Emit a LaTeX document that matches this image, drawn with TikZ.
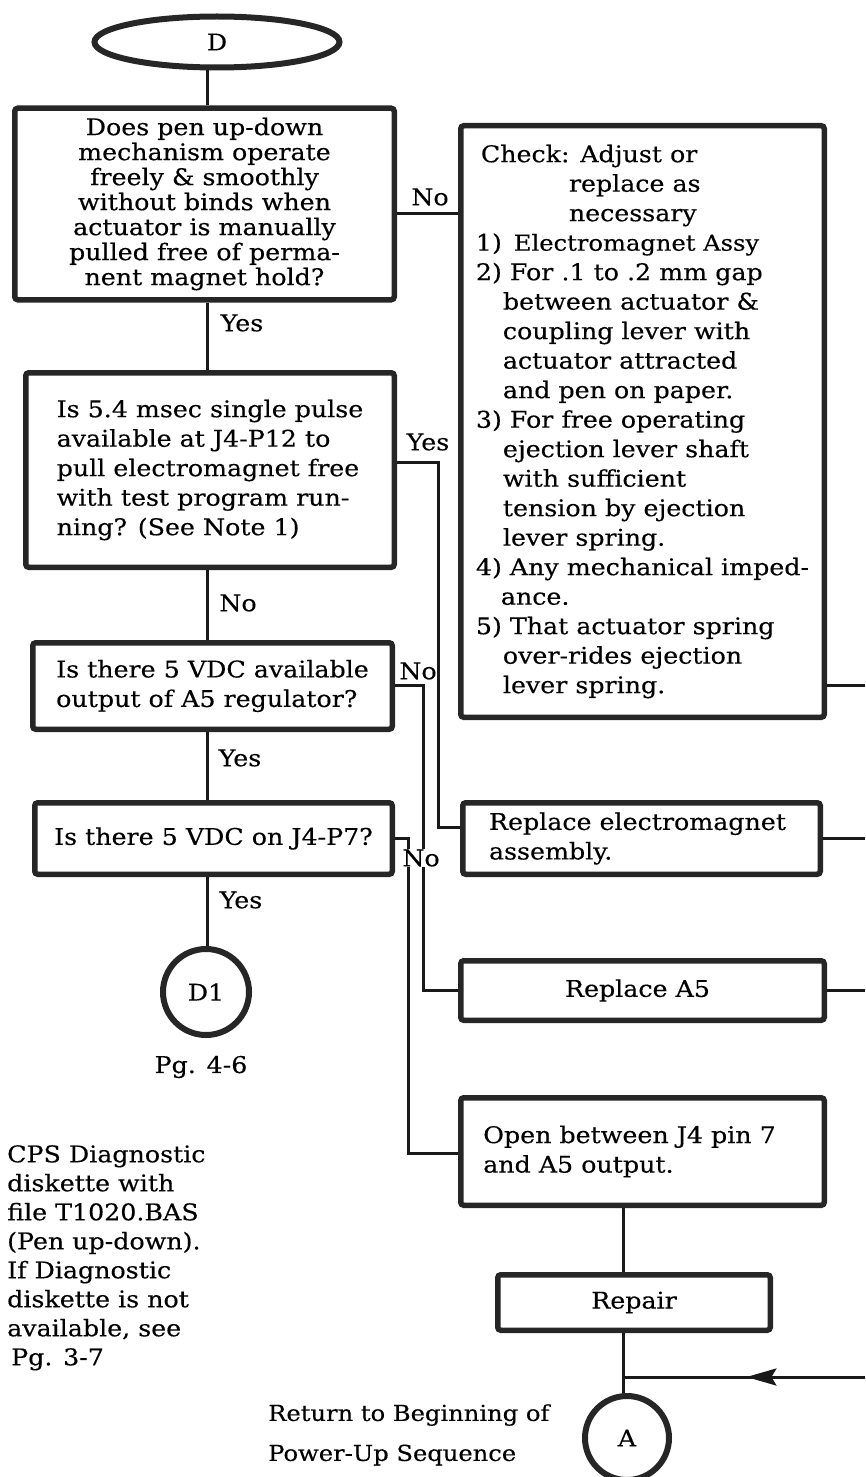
\documentclass[tikz,border=0pt]{standalone}
\usepackage{fontspec}
\setmainfont{DejaVu Serif}[FakeStretch=1.1, FakeBold=0.3]
\usetikzlibrary{shapes.geometric, arrows.meta, decorations.markings}
\begin{document}
\begin{tikzpicture}[x=1pt, y=-1pt,
  box/.style={draw=black!85, line width=5.5pt, rounded corners=3pt, fill=white, inner sep=0pt,
              font=\fontsize{23}{29.5}\selectfont},
  conn/.style={draw=black!90, line width=3pt},
  lbl/.style={font=\fontsize{23}{26}\selectfont, inner sep=1pt},
  term/.style={draw=black!85, line width=6pt, circle, fill=white, inner sep=0pt,
               font=\fontsize{23}{26}\selectfont}
]
\useasboundingbox (0,0) rectangle (865,1477);

% ---------- nodes ----------
\node[draw=black!85, line width=6pt, ellipse, fill=white, minimum width=245pt, minimum height=51pt,
      inner sep=0pt, font=\fontsize{23}{26}\selectfont] (d) at (217,42) {D};

\node[box, minimum width=379.5pt, minimum height=191.5pt, align=center,
      font=\fontsize{23}{25}\selectfont] (q1) at (204.5,204)
 {Does pen up-down\\ mechanism operate\\ freely \& smoothly\\ without binds when\\
  actuator is manually\\ pulled free of perma-\\ nent magnet hold?};

\node[box, minimum width=368.5pt, minimum height=194.5pt, align=left] (q2) at (210,470)
 {Is 5.4 msec single pulse\\ available at J4-P12 to\\ pull electromagnet free\\
  with test program run-\\ ning? (See Note 1)};

\node[box, minimum width=359.5pt, minimum height=86.5pt, align=left] (q3) at (212.5,686)
 {Is there 5 VDC available\\ output of A5 regulator?};

\node[box, minimum width=357.5pt, minimum height=71.5pt, align=left] (q4) at (213.5,838.5)
 {Is there 5 VDC on J4-P7?};

\node[box, minimum width=363.5pt, minimum height=591.5pt, align=left] (check) at (642.5,421.5)
 {\hspace*{5pt}Check: Adjust or\\
  \hspace*{93pt}replace as\\
  \hspace*{93pt}necessary\\
  1)\hspace*{12pt}{\fontsize{22}{29.5}\selectfont Electromagnet Assy}\\
  2) For .1 to .2 mm gap\\
  \hspace*{27pt}between actuator \&\\
  \hspace*{27pt}coupling lever with\\
  \hspace*{27pt}actuator attracted\\
  \hspace*{27pt}and pen on paper.\\
  3) For free operating\\
  \hspace*{27pt}ejection lever shaft\\
  \hspace*{27pt}with sufficient\\
  \hspace*{27pt}tension by ejection\\
  \hspace*{27pt}lever spring.\\
  4) Any mechanical imped-\\
  \hspace*{25pt}ance.\\
  5) That actuator spring\\
  \hspace*{27pt}over-rides ejection\\
  \hspace*{27pt}lever spring.};

\node[box, minimum width=357.5pt, minimum height=71.5pt, align=left] (repem) at (641.5,838.5)
 {Replace electromagnet\hspace*{8pt}\\ assembly.};

\node[box, minimum width=363.5pt, minimum height=59.5pt] (repa5) at (642.5,990.5)
 {Replace A5\hspace*{10pt}};

\node[box, minimum width=363.5pt, minimum height=107.5pt, align=left] (open) at (642.5,1151.5)
 {Open between J4 pin 7\hspace*{26pt}\\ and A5 output.};

\node[box, minimum width=272.5pt, minimum height=55.5pt] (repair) at (634,1302.5) {Repair};

\node[term, minimum size=86pt] (d1) at (206,992) {D1};
\node[term, minimum size=84pt] (a) at (627,1438) {A};

% ---------- helper coordinates ----------
\coordinate (sp) at (207,0);
\coordinate (h1) at (0,213);
\coordinate (h2) at (0,462);
\coordinate (v2) at (438,0);
\coordinate (h2b) at (0,827);
\coordinate (h3) at (0,685);
\coordinate (v3) at (423,0);
\coordinate (h3b) at (0,990);
\coordinate (h4) at (0,838);
\coordinate (v4) at (408,0);
\coordinate (h4b) at (0,1153);
\coordinate (sp2) at (623,0);
\coordinate (e1) at (865,685);
\coordinate (e2) at (865,838.5);
\coordinate (e3) at (865,990.5);
\coordinate (e4) at (865,1377);
\coordinate (j) at (623,1377);

% ---------- connectors ----------
\draw[conn] (d.south -| sp) -- (q1.north -| sp);
\draw[conn] (q1.south -| sp) -- (q2.north -| sp);
\draw[conn] (q2.south -| sp) -- (q3.north -| sp);
\draw[conn] (q3.south -| sp) -- (q4.north -| sp);
\draw[conn] (q4.south -| sp) -- (d1.north -| sp);

\draw[conn] (q1.east |- h1) -- (check.west |- h1);
\draw[conn] (q2.east |- h2) -- (v2 |- h2) -- (v2 |- h2b) -- (repem.west |- h2b);
\draw[conn] (q3.east |- h3) -- (v3 |- h3) -- (v3 |- h3b) -- (repa5.west |- h3b);
\draw[conn] (q4.east |- h4) -- (v4 |- h4) -- (v4 |- h4b) -- (open.west |- h4b);

\draw[conn] (open.south -| sp2) -- (repair.north -| sp2);
\draw[conn] (repair.south -| sp2) -- (a.north -| sp2);

\draw[conn] (check.east |- h3) -- (e1);
\draw[conn] (repem.east) -- (e2);
\draw[conn] (repa5.east) -- (e3);
\draw[conn, postaction={decorate},
      decoration={markings, mark=at position 0.49 with {\arrow[black!90]{Stealth[length=30pt, width=17pt, inset=5pt]}}}]
  (e4) -- (j);

% ---------- labels ----------
\node[lbl] (l1) at (430,197) {No};
\node[lbl] (l2) at (242,323) {Yes};
\node[lbl] (l3) at (428,442) {Yes};
\node[lbl] (l4) at (238,603) {No};
\node[lbl] (l5) at (418,671) {No};
\node[lbl] (l6) at (240,758) {Yes};
\node[lbl, fill=white, inner sep=0pt] (l7) at (421,858) {No};
\node[lbl] (l8) at (241,900) {Yes};
\node[lbl] (pg46) at (201,1067) {Pg. 4-6};

\node[lbl, anchor=north west, align=left, inner sep=0pt, font=\fontsize{23}{29}\selectfont] (note) at (7,1145)
 {CPS Diagnostic\\ diskette with\\ file T1020.BAS\\ (Pen up-down).\\ If Diagnostic\\
  diskette is not\\ available, see\\ \hspace*{4pt}Pg. 3-7};

\node[lbl, anchor=north west, align=left, inner sep=0pt, font=\fontsize{22}{40}\selectfont] (ret) at (268,1404)
 {Return to Beginning of\\ Power-Up Sequence};
\end{tikzpicture}
\end{document}
